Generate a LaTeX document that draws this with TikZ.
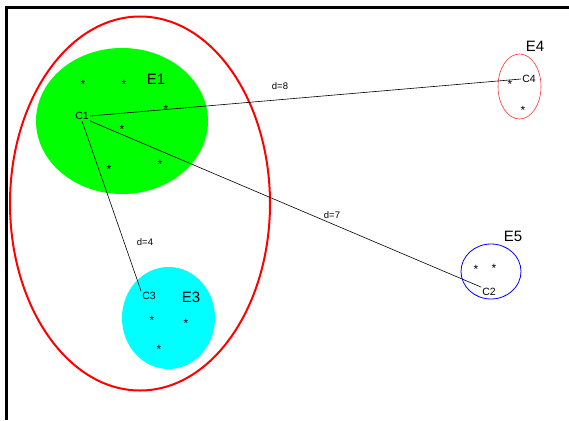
\documentclass[tikz,border=0pt]{standalone}
\usepackage{fontspec}
\setmainfont{Liberation Sans}
\definecolor{aqua}{RGB}{0,255,255}
\definecolor{lime}{RGB}{0,255,0}
\begin{document}
\begin{tikzpicture}[x=1pt,y=-1pt,
  clabel/.style={inner sep=1pt,font=\fontsize{10.5}{11}\selectfont},
  elabel/.style={inner sep=0pt,font=\fontsize{15}{16}\selectfont},
  dlabel/.style={inner sep=0pt,font=\fontsize{9.5}{10}\selectfont},
  star/.style={inner sep=0pt,yshift=-2.5pt,font=\fontsize{12}{12}\selectfont},
  link/.style={draw=black,line width=0.6pt}]
\useasboundingbox (0,0) rectangle (569,420);
% frame
\draw[line width=3pt] (6,420) -- (6,7.5) -- (569,7.5);
% big cluster
\draw[red,line width=2pt] (140,203.5) ellipse [x radius=130,y radius=187];
% E1
\fill[lime] (122,121) ellipse [x radius=86,y radius=73];
% E3
\fill[aqua] (168.5,318) ellipse [x radius=46.5,y radius=51];
% E4
\draw[red!80,line width=0.6pt] (519.5,86.5) ellipse [x radius=21.5,y radius=32.5];
% E5
\draw[blue,line width=0.8pt] (491,271.5) ellipse [x radius=30,y radius=27.5];
% labels
\node[elabel] (e1) at (156,79) {E1};
\node[elabel] (e3) at (191,297) {E3};
\node[elabel] (e4) at (535,46) {E4};
\node[elabel] (e5) at (513,236) {E5};
\node[clabel] (c1) at (82,116) {C1};
\node[clabel] (c2) at (489,292) {C2};
\node[clabel] (c3) at (149,296) {C3};
\node[clabel] (c4) at (529,79) {C4};
% stars
\node[star] (s1) at (83,82) {*};
\node[star] (s2) at (124,82) {*};
\node[star] (s3) at (166,107) {*};
\node[star] (s4) at (122,127) {*};
\node[star] (s5) at (109,167) {*};
\node[star] (s6) at (160,162) {*};
\node[star] (s7) at (152,318) {*};
\node[star] (s8) at (186,321) {*};
\node[star] (s9) at (159,347) {*};
\node[star] (s10) at (510,82) {*};
\node[star] (s11) at (523,108) {*};
\node[star] (s12) at (476,267) {*};
\node[star] (s13) at (494,266) {*};
% links
\draw[link] (c1.east) -- (c4.west);
\draw[link] (c1.south east) -- (c2.north west);
\draw[link] (c1.south) -- (c3.north west);
\node[dlabel] (d8) at (280,86) {d=8};
\node[dlabel] (d7) at (332,215) {d=7};
\node[dlabel] (d4) at (145,242) {d=4};
\end{tikzpicture}
\end{document}
